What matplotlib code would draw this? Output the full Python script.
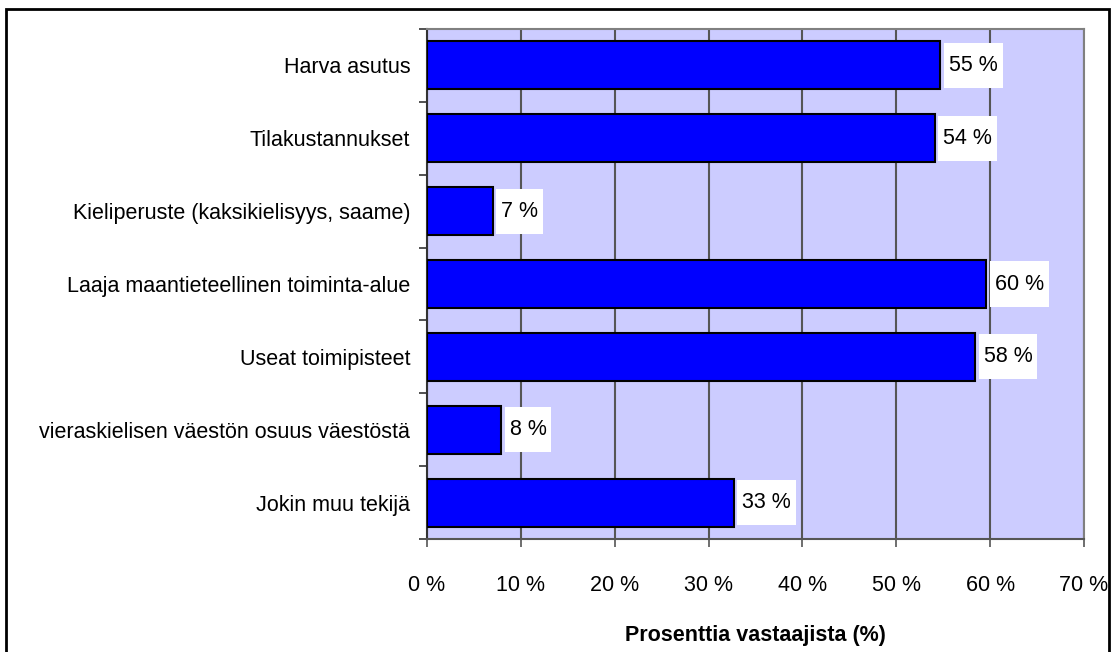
import numpy as np
import matplotlib.pyplot as plt
from matplotlib.patches import Rectangle

# Data
categories = ['Harva asutus',
              'Tilakustannukset',
              'Kieliperuste (kaksikielisyys, saame)',
              'Laaja maantieteellinen toiminta-alue',
              'Useat toimipisteet',
              'vieraskielisen väestön osuus väestöstä',
              'Jokin muu tekijä']
values = [54.7, 54.1, 7.0, 59.6, 58.4, 7.9, 32.7]
xticks = [0, 10, 20, 30, 40, 50, 60, 70]

plt.rcParams['font.family'] = ['Liberation Sans', 'DejaVu Sans']
fs = 15.5

fig = plt.figure(figsize=(11.11, 6.52), dpi=100)
ax = fig.add_axes([0.3843, 0.1733, 0.5914, 0.7822])

pos = np.arange(len(categories))
ax.barh(pos, values, height=0.66, color='#0000FF', edgecolor='black', linewidth=1.5, zorder=3)

ax.set_facecolor('#CCCCFF')
ax.set_xlim(0, 70)
ax.set_ylim(len(categories) - 0.5, -0.5)
ax.set_xticks(xticks)
ax.set_xticklabels([f'{t} %' for t in xticks], fontsize=fs)
ax.set_yticks(pos)
ax.set_yticklabels(categories, fontsize=fs)
ax.set_yticks(np.arange(len(categories) + 1) - 0.5, minor=True)
ax.tick_params(axis='y', which='major', length=0, pad=12)
ax.tick_params(axis='y', which='minor', length=6, color='#333333', width=1.2)
ax.tick_params(axis='x', length=6, color='#555555', width=1.2, pad=20)
ax.grid(axis='x', color='#555555', linewidth=1.5, zorder=1)
for s in ax.spines.values():
    s.set_color('#808080')
    s.set_linewidth(1.5)
ax.spines['left'].set_color('#333333')
ax.spines['bottom'].set_color('#555555')
ax.set_xlabel('Prosenttia vastaajista (%)', fontsize=15.5, fontweight='bold', labelpad=21)

# value labels with white boxes
labels = []
for p, v in zip(pos, values):
    t = ax.text(v + 0.9, p, f'{round(v)} %', va='center', ha='left', fontsize=fs, zorder=5)
    labels.append(t)
fig.canvas.draw()
inv = ax.transData.inverted()
for t, p in zip(labels, pos):
    bb = t.get_window_extent()
    x0 = inv.transform((bb.x0 - 5, 0))[0]
    x1 = inv.transform((bb.x1 + 5, 0))[0]
    ax.add_patch(Rectangle((x0, p - 0.31), x1 - x0, 0.62, facecolor='white',
                           edgecolor='none', zorder=4))

# outer border
fig.add_artist(Rectangle((6 / 1111, -0.02), 1103 / 1111, 1.02 - 9 / 652, transform=fig.transFigure,
                         fill=False, edgecolor='black', linewidth=2))

fig.savefig('out.png', dpi=100)
